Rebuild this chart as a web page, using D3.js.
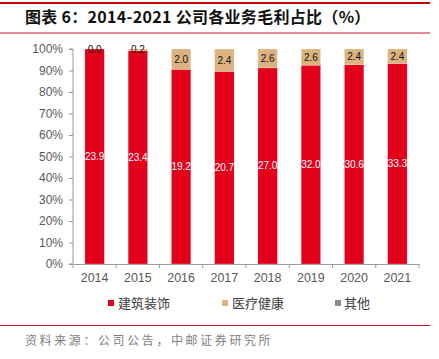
<!DOCTYPE html>
<html><head><meta charset="utf-8">
<script src="https://cdn.jsdelivr.net/npm/d3@7"></script>
<style>body{margin:0;background:#fff;}svg{display:block;}</style>
</head><body>
<script>
const years = ["2014","2015","2016","2017","2018","2019","2020","2021"];
const construction = [23.9,23.4,19.2,20.7,27.0,32.0,30.6,33.3];
const medical = [0.0,0.2,2.0,2.4,2.6,2.6,2.4,2.4];
const other = [0,0,0,0,0,0,0,0];
const seriesNames = ["建筑装饰","医疗健康","其他"];
const colors = ["#E2001A","#DBB37F","#8C8C8C"];
const yTicks = [0,0.1,0.2,0.3,0.4,0.5,0.6,0.7,0.8,0.9,1.0];

const W=439,H=359;
const svg=d3.select("body").append("svg").attr("width",W).attr("height",H);
const font="'Liberation Sans', Arial, sans-serif";
const cjk="'Noto Sans CJK SC', sans-serif";

// header lines
svg.append("rect").attr("x",0).attr("y",2).attr("width",430).attr("height",2).attr("fill","#C00000");
svg.append("line").attr("x1",0).attr("x2",430).attr("y1",33).attr("y2",33).attr("stroke","#C8102E").attr("stroke-width",1);
svg.append("text").attr("x",25).attr("y",23).attr("font-family",cjk).attr("font-weight","bold")
  .attr("font-size",16).attr("letter-spacing",0.3).attr("fill","#111").text("图表 6：2014-2021 公司各业务毛利占比（%）");

const m={l:73,r:419,t:49,b:264};
const x=d3.scaleBand().domain(years).range([m.l,m.r]).paddingInner(0.55).paddingOuter(0.275);
const y=d3.scaleLinear().domain([0,1]).range([m.b,m.t]);

const data=years.map((yr,i)=>({year:yr,c:construction[i],m:medical[i],o:other[i]}));
const stack=d3.stack().keys(["c","m","o"]).offset(d3.stackOffsetExpand);
const series=stack(data);

// y axis
const ya=svg.append("g").attr("transform",`translate(${m.l},0)`)
  .call(d3.axisLeft(y).tickValues(yTicks).tickFormat(d3.format(".0%")).tickSize(4).tickPadding(6));
ya.selectAll("path,line").attr("stroke","#999");
ya.selectAll("text").attr("font-family",font).attr("font-size",12).attr("fill","#595959");
ya.select(".domain").attr("d",`M-4,${m.t}H0V${m.b}H-4`);

// x axis
const xa=svg.append("g").attr("transform",`translate(0,${m.b})`)
  .call(d3.axisBottom(x).tickSize(0).tickPadding(9));
xa.select(".domain").attr("stroke","#999");
xa.selectAll("text").attr("font-family",font).attr("font-size",12.5).attr("fill","#595959");
const step=x.step();
const bounds=d3.range(years.length+1).map(i=>m.l+i*step);
svg.append("g").selectAll("line").data(bounds).join("line")
  .attr("x1",d=>d).attr("x2",d=>d).attr("y1",m.b).attr("y2",m.b+4).attr("stroke","#999");

// bars
series.forEach((s,si)=>{
  svg.append("g").selectAll("rect").data(s).join("rect")
    .attr("x",d=>x(d.data.year)).attr("width",x.bandwidth())
    .attr("y",d=>y(d[1])).attr("height",d=>Math.max(0,y(d[0])-y(d[1])))
    .attr("fill",colors[si]).attr("stroke","#fff").attr("stroke-width",0.4).attr("stroke-opacity",0.6);
});
// labels
[series[0],series[1]].forEach((s,si)=>{
  const vals=si===0?construction:medical;
  svg.append("g").selectAll("text").data(s).join("text")
    .attr("x",d=>x(d.data.year)+x.bandwidth()/2)
    .attr("y",d=>(y(d[0])+y(d[1]))/2+3.5)
    .attr("text-anchor","middle").attr("font-family",font).attr("font-size",10)
    .attr("fill",si===0?"#fff":"#111")
    .text((d,i)=>vals[i].toFixed(1));
});

// legend
const lg=[{x:108,tx:118},{x:222,tx:232},{x:335,tx:344}];
lg.forEach((p,i)=>{
  svg.append("rect").attr("x",p.x).attr("y",300).attr("width",6).attr("height",6).attr("fill",colors[i]);
  svg.append("text").attr("x",p.tx).attr("y",308).attr("font-family",cjk).attr("font-size",13)
    .attr("fill","#404040").text(seriesNames[i]);
});

// footer
svg.append("line").attr("x1",0).attr("x2",430).attr("y1",325.5).attr("y2",325.5).attr("stroke","#C8102E").attr("stroke-width",1);
svg.append("text").attr("x",25).attr("y",345).attr("font-family",cjk).attr("font-size",12)
  .attr("letter-spacing",2.6).attr("fill","#7f7f7f").text("资料来源：公司公告，中邮证券研究所");
</script>
</body></html>
